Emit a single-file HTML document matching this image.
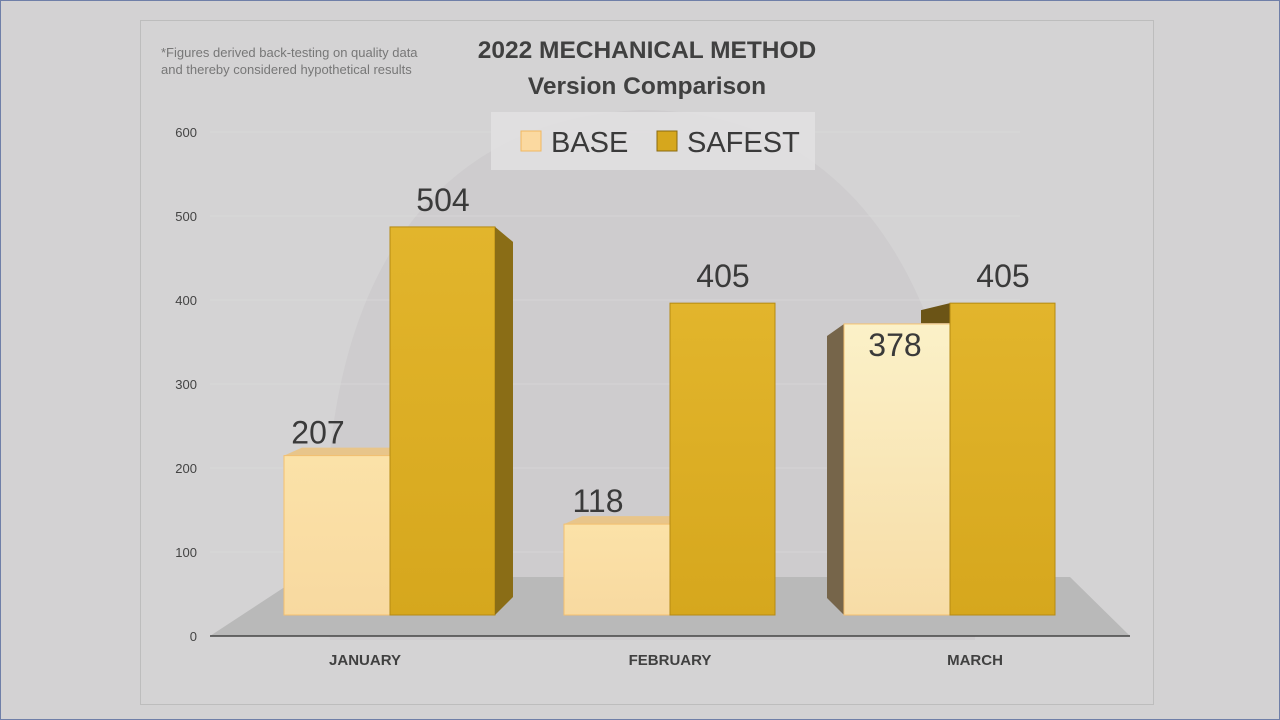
<!DOCTYPE html>
<html><head><meta charset="utf-8"><style>
body{margin:0;width:1280px;height:720px;overflow:hidden;background:#d3d2d3;font-family:"Liberation Sans",sans-serif}
</style></head><body>
<svg width="1280" height="720" style="position:absolute;left:0;top:0">
<defs>
<linearGradient id="baseG" x1="0" y1="0" x2="0" y2="1"><stop offset="0" stop-color="#fbe2a8"/><stop offset="1" stop-color="#f8d9a0"/></linearGradient>
<linearGradient id="baseM" x1="0" y1="0" x2="0" y2="1"><stop offset="0" stop-color="#fbf1c8"/><stop offset="1" stop-color="#f7dca6"/></linearGradient>
<linearGradient id="safeG" x1="0" y1="0" x2="0" y2="1"><stop offset="0" stop-color="#e2b52c"/><stop offset="1" stop-color="#d6a71d"/></linearGradient>
</defs>
<rect x="0.5" y="0.5" width="1279" height="719" fill="none" stroke="#6f7fa8"/>
<rect x="140.5" y="20.5" width="1013" height="684" fill="#d4d3d4" stroke="#bdbdbd"/>
<path d="M330 640 C300 300 420 120 640 110 C860 110 980 300 975 640 Z" fill="#c9c8c9" opacity="0.6"/>
<polygon points="210,636 1130,636 1070,577 300,577" fill="#b9b9b9"/>
<line x1="210" y1="636" x2="1130" y2="636" stroke="#444" stroke-width="1.5"/>
<g id="grid"></g>
<g id="ticks"></g>
<g id="bars"></g>
<g id="labels"></g>
<text x="161" y="57" font-size="13" fill="#777">*Figures derived back-testing on quality data</text>
<text x="161" y="74" font-size="13" fill="#777">and thereby considered hypothetical results</text>
<text x="647" y="58" font-size="24.5" font-weight="bold" fill="#404040" text-anchor="middle">2022 MECHANICAL METHOD</text>
<text x="647" y="94" font-size="24.5" font-weight="bold" fill="#404040" text-anchor="middle">Version Comparison</text>
<rect x="491" y="112" width="324" height="58" fill="#e2e1e2" opacity="0.85"/>
<rect x="521" y="131" width="20" height="20" fill="#fbd9a0" stroke="#f0b860"/>
<text x="551" y="152" font-size="29" fill="#3a3a3a">BASE</text>
<rect x="657" y="131" width="20" height="20" fill="#d6a71d" stroke="#8a6a10"/>
<text x="687" y="152" font-size="29" fill="#3a3a3a">SAFEST</text>
</svg>
<script>
const categories=["JANUARY","FEBRUARY","MARCH"];
const baseValues=[207,118,378];
const safestValues=[504,405,405];
const tickValues=[0,100,200,300,400,500,600];
const NS="http://www.w3.org/2000/svg";
function yAxis(v){return 636-v*0.84;}
function yBar(v){return 615-v*0.77;}
function groupX(i){return 390+i*280;}
function labelX(i){return 365+i*305;}
function mk(tag,attrs,parent){const e=document.createElementNS(NS,tag);for(const k in attrs)e.setAttribute(k,attrs[k]);document.getElementById(parent).appendChild(e);return e;}
tickValues.forEach(v=>{
 const t=mk('text',{x:197,y:yAxis(v)+5,'font-size':13,fill:'#444','text-anchor':'end'},'ticks');
 t.textContent=v;
 
 
 if(v>0){const g=mk('line',{x1:210,y1:yAxis(v),x2:1020,y2:yAxis(v),stroke:'#dcdcdc','stroke-width':1,opacity:0.6},'grid');
 
 }
});
categories.forEach((c,i)=>{
 const cx=groupX(i);
 const t=mk('text',{x:labelX(i),y:665,'font-size':15,'font-weight':'bold',fill:'#404040','text-anchor':'middle'},'labels');
 t.textContent=c;
 
 
 const bt=yBar(baseValues[i]);
 if(i===2){const s=mk('polygon',{points:`${cx-123},${bt+12} ${cx-106},${bt} ${cx-106},615 ${cx-123},598`,fill:'#76654a'},'bars');
 
 }
 else{const tp=mk('polygon',{points:`${cx-106},${bt} ${cx},${bt} ${cx+18},${bt-8} ${cx-88},${bt-8}`,fill:'#e8c58a'},'bars');
 
 }
 const b=mk('rect',{x:cx-106,y:bt,width:106,height:615-bt,fill:i===2?'url(#baseM)':'url(#baseG)',stroke:'#f3c070','stroke-width':1},'bars');
 
 
 const st=yBar(safestValues[i]);
 if(i===2){const sd=mk('polygon',{points:`${cx-29},${st+7} ${cx},${st} ${cx},${st+20} ${cx-29},${st+20}`,fill:'#6b5416'},'bars');
 
 }
 const s=mk('rect',{x:cx,y:st,width:105,height:615-st,fill:'url(#safeG)',stroke:'#b58a12','stroke-width':1},'bars');
 
 
 if(i===0){const r=mk('polygon',{points:`${cx+105},${st} ${cx+123},${st+15} ${cx+123},${597} ${cx+105},615`,fill:'#8a6d16'},'bars');
 
 }
 const bl=mk('text',{x:i===2?cx-55:cx-72,y:i===2?bt+32:bt-12,'font-size':32,fill:'#3a3a3a','text-anchor':'middle'},'labels');
 bl.textContent=baseValues[i];
 
 
 const sl=mk('text',{x:cx+53,y:st-16,'font-size':32,fill:'#3a3a3a','text-anchor':'middle'},'labels');
 sl.textContent=safestValues[i];
 
 
});
</script>
</body></html>
